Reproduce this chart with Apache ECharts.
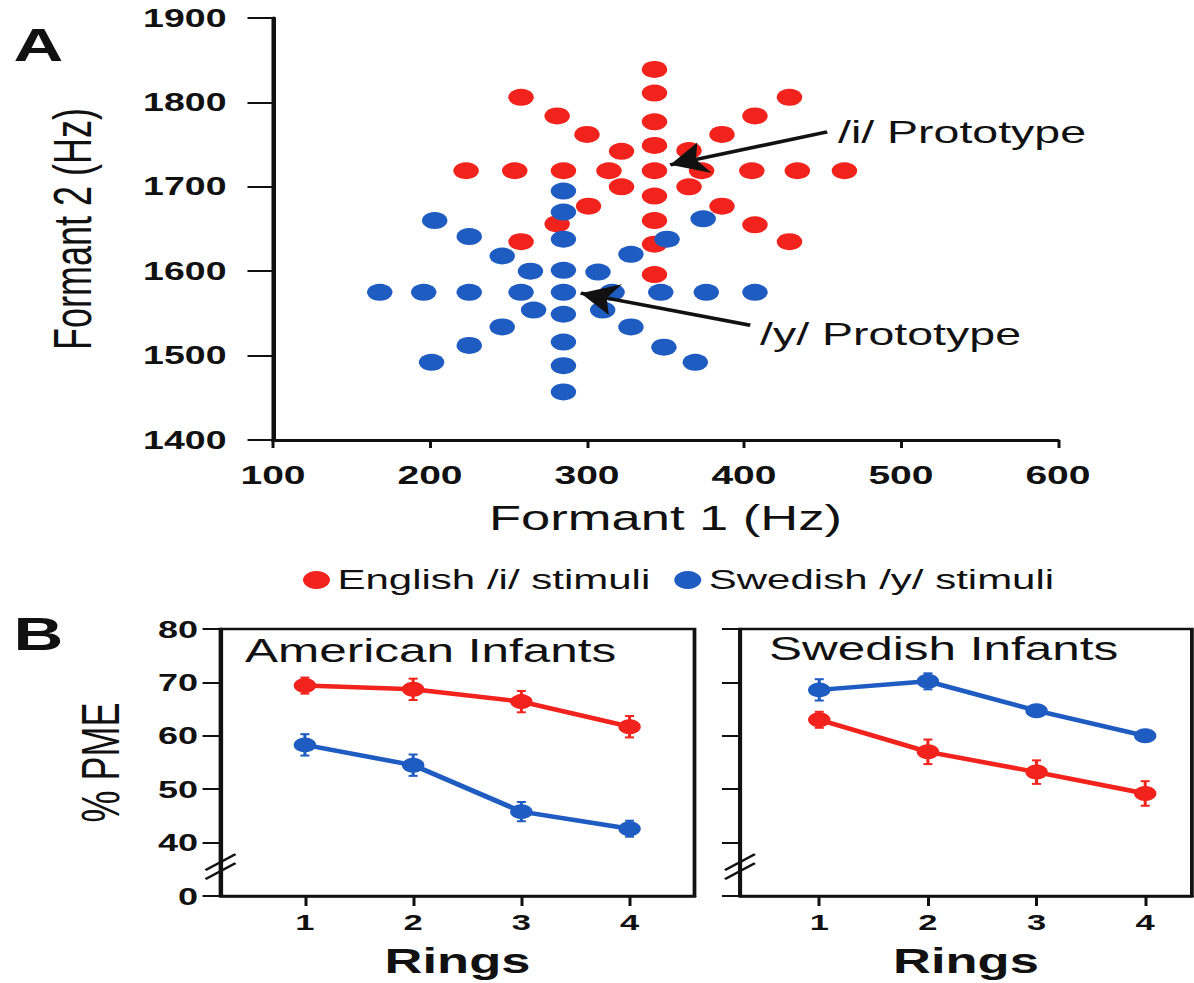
<!DOCTYPE html>
<html><head><meta charset="utf-8">
<script src="https://cdn.jsdelivr.net/npm/echarts@6/dist/echarts.min.js"></script>
<style>
html,body{margin:0;padding:0;background:#fff;overflow:hidden;}
#wrap{width:796px;height:983px;transform:scaleX(1.5);transform-origin:0 0;}
</style></head>
<body><div id="wrap"></div>
<script>
// ---- Panel A data (Formant 1 / Formant 2, Hz) ----
const englishF1 = [343,343,343,343,343,343,343,343,343, 223,254,285,314,373,405,434,464, 322,300,281,258, 322,301,281,258, 365,386,407,429, 365,386,407,429];
const englishF2 = [1839,1811,1777,1749,1719,1689,1660,1632,1596, 1719,1719,1719,1719,1719,1719,1719,1719, 1742,1762,1784,1806, 1700,1677,1656,1635, 1743,1762,1784,1806, 1700,1677,1655,1635];
const swedishF1 = [285,285,285,285,285,285,285,285,285, 168,196,225,258,316,347,376,407, 264,246,225,203, 266,246,225,201, 307,328,351,374, 310,328,349,369];
const swedishF2 = [1695,1670,1638,1601,1575,1549,1516,1488,1457, 1575,1575,1575,1575,1575,1575,1575,1575, 1600,1618,1641,1660, 1554,1534,1512,1492, 1599,1620,1638,1662, 1554,1534,1510,1492];
const f1Ticks = [100,200,300,400,500,600];
const f2Ticks = [1400,1500,1600,1700,1800,1900];

// ---- Panel B data (% PME by rings) ----
const rings = [1,2,3,4];
const pmeTicks = [30,40,50,60,70,80]; // 30 shown as "0" (broken axis)
const amEnglish = [69.4,68.7,66.4,61.7];
const amEnglishErr = [1.5,2.0,2.0,2.0];
const amSwedish = [58.3,54.5,45.8,42.6];
const amSwedishErr = [2.0,2.0,1.8,1.5];
const swSwedish = [68.6,70.2,64.7,60.0];
const swSwedishErr = [2.0,1.5,1.0,1.0];
const swEnglish = [63.0,57.0,53.2,49.2];
const swEnglishErr = [1.5,2.3,2.2,2.3];

const RED = '#f2231c', BLUE = '#1f5cc2', INK = '#111';
const FONT = '"Liberation Sans", Arial, sans-serif';

const chart = echarts.init(document.getElementById('wrap'), null, {renderer:'svg', width:796, height:983});

function pts(xs, ys){ return xs.map((x,i)=>[x, ys[i]]); }

function errorBars(ai, vals, errs, color){
  return {
    type:'custom', xAxisIndex:ai, yAxisIndex:ai, silent:true, z:5, clip:false,
    encode:{x:0, y:[1,2]},
    data: rings.map((r,i)=>[r, vals[i]-errs[i], vals[i]+errs[i]]),
    renderItem:(params, api)=>{
      const x = api.value(0);
      const lo = api.coord([x, api.value(1)]);
      const hi = api.coord([x, api.value(2)]);
      const cw = 3;
      const st = {stroke:color, lineWidth:2};
      return {type:'group', children:[
        {type:'line', shape:{x1:lo[0],y1:lo[1],x2:hi[0],y2:hi[1]}, style:st},
        {type:'line', shape:{x1:lo[0]-cw,y1:lo[1],x2:lo[0]+cw,y2:lo[1]}, style:st},
        {type:'line', shape:{x1:hi[0]-cw,y1:hi[1],x2:hi[0]+cw,y2:hi[1]}, style:st}
      ]};
    }
  };
}

function lineSeries(ai, vals, color, name){
  return {type:'line', name:name, xAxisIndex:ai, yAxisIndex:ai, data: pts(rings, vals),
    symbol:'circle', symbolSize:15, z:4,
    lineStyle:{color:color, width:4.5}, itemStyle:{color:color}};
}

const bMin = [0.22, 0.27], bMax = [4.6, 4.43];

function breakMark(ai){
  return {type:'custom', xAxisIndex:ai, yAxisIndex:ai, silent:true, clip:false, z:6,
    data:[[bMin[ai-1], 35.5]],
    renderItem:(params, api)=>{
      const p = api.coord([api.value(0), api.value(1)]);
      const st = {stroke:INK, lineWidth:2};
      const mk = d => ({type:'line', shape:{x1:p[0]-10, y1:p[1]+8+d, x2:p[0]+10, y2:p[1]-8+d}, style:st});
      return {type:'group', children:[mk(-4.5), mk(4.5)]};
    }
  };
}

function bottomX(ai){
  return {gridIndex:ai, type:'value', min:bMin[ai-1], max:bMax[ai-1],
    axisLine:{show:true, onZero:false, lineStyle:{color:INK, width:2.5}},
    axisTick:{show:true, customValues:rings, length:10, lineStyle:{color:INK, width:2}},
    axisLabel:{customValues:rings, fontSize:23, fontWeight:'bold', margin:14, color:INK, fontFamily:FONT},
    splitLine:{show:false},
    name:'Rings', nameLocation:'middle', nameGap:47,
    nameTextStyle:{fontSize:35, fontWeight:'bold', color:INK, fontFamily:FONT}};
}
function bottomY(ai, showLabels){
  const ax = {gridIndex:ai, type:'value', min:30, max:80, interval:10,
    axisLine:{show:true, onZero:false, lineStyle:{color:INK, width:2.5}},
    axisTick:{show:true, length:12, lineStyle:{color:INK, width:2}},
    axisLabel:{show:showLabels, fontSize:24, fontWeight:'bold', margin:15, color:INK, fontFamily:FONT,
      formatter: v => v === pmeTicks[0] ? '0' : String(v)},
    splitLine:{show:false}};
  if (showLabels){
    ax.name = '% PME'; ax.nameLocation = 'middle'; ax.nameGap = 62; ax.nameRotate = 90;
    ax.nameTextStyle = {fontSize:36, color:INK, fontFamily:FONT};
  }
  return ax;
}

const arrowLine = {silent:true, symbol:['none','arrow'], symbolSize:24,
  lineStyle:{color:INK, width:3.5, type:'solid'}, label:{show:false}};

const option = {
  animation:false,
  backgroundColor:'#fff',
  textStyle:{fontFamily:FONT},
  grid:[
    {left:182, top:18, width:523.3, height:422},
    {left:147, top:629, width:316, height:267, show:true, borderColor:INK, borderWidth:2.5},
    {left:493.3, top:629, width:301.3, height:267, show:true, borderColor:INK, borderWidth:2.5}
  ],
  xAxis:[
    {gridIndex:0, type:'value', min:f1Ticks[0], max:f1Ticks[f1Ticks.length-1], interval:100,
      axisLine:{show:true, onZero:false, lineStyle:{color:INK, width:3}},
      axisTick:{show:true, length:8, lineStyle:{color:INK, width:2}},
      axisLabel:{fontSize:26, fontWeight:'bold', margin:22, color:INK, fontFamily:FONT, formatter: v => String(v)},
      splitLine:{show:false},
      name:'Formant 1 (Hz)', nameLocation:'middle', nameGap:60,
      nameTextStyle:{fontSize:35, color:INK, fontFamily:FONT}},
    bottomX(1), bottomX(2)
  ],
  yAxis:[
    {gridIndex:0, type:'value', min:f2Ticks[0], max:f2Ticks[f2Ticks.length-1], interval:100,
      axisLine:{show:true, onZero:false, lineStyle:{color:INK, width:3}},
      axisTick:{show:true, length:17, lineStyle:{color:INK, width:2}},
      axisLabel:{fontSize:25, fontWeight:'bold', margin:31, color:INK, fontFamily:FONT, formatter: v => String(v)},
      splitLine:{show:false},
      name:'Formant 2 (Hz)', nameLocation:'middle', nameGap:116, nameRotate:90,
      nameTextStyle:{fontSize:36, color:INK, fontFamily:FONT}},
    bottomY(1, true), bottomY(2, false)
  ],
  legend:{data:['English /i/ stimuli','Swedish /y/ stimuli'], left:197, top:561,
    icon:'circle', itemWidth:18, itemHeight:18, itemGap:16,
    textStyle:{fontSize:28, color:INK, fontFamily:FONT}},
  series:[
    {type:'scatter', name:'English /i/ stimuli', xAxisIndex:0, yAxisIndex:0,
      data: pts(englishF1, englishF2), symbol:'circle', symbolSize:17,
      itemStyle:{color:RED, opacity:1},
      markLine:Object.assign({data:[[{coord:[453,1765]},{coord:[353,1726]}]]}, arrowLine)},
    {type:'scatter', name:'Swedish /y/ stimuli', xAxisIndex:0, yAxisIndex:0,
      data: pts(swedishF1, swedishF2), symbol:'circle', symbolSize:17,
      itemStyle:{color:BLUE, opacity:1},
      markLine:Object.assign({data:[[{coord:[404,1536]},{coord:[296,1574]}]]}, arrowLine)},
    lineSeries(1, amEnglish, RED, 'American infants – English'),
    lineSeries(1, amSwedish, BLUE, 'American infants – Swedish'),
    errorBars(1, amEnglish, amEnglishErr, RED),
    errorBars(1, amSwedish, amSwedishErr, BLUE),
    lineSeries(2, swSwedish, BLUE, 'Swedish infants – Swedish'),
    lineSeries(2, swEnglish, RED, 'Swedish infants – English'),
    errorBars(2, swSwedish, swSwedishErr, BLUE),
    errorBars(2, swEnglish, swEnglishErr, RED),
    breakMark(1), breakMark(2)
  ],
  graphic:[
    {type:'text', left:9, top:22, style:{text:'A', font:'bold 46px '+FONT, fill:INK}},
    {type:'text', left:9, top:611, style:{text:'B', font:'bold 46px '+FONT, fill:INK}},
    {type:'text', left:558.7, top:117, style:{text:'/i/ Prototype', font:'31px '+FONT, fill:INK}},
    {type:'text', left:506.7, top:319, style:{text:'/y/ Prototype', font:'31px '+FONT, fill:INK}},
    {type:'text', left:163.3, top:634, style:{text:'American Infants', font:'33px '+FONT, fill:INK}},
    {type:'text', left:512.7, top:632, style:{text:'Swedish Infants', font:'33px '+FONT, fill:INK}}
  ]
};
chart.setOption(option);
</script>
</body></html>
